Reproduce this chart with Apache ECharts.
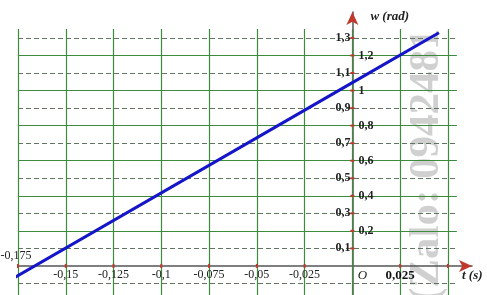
<!DOCTYPE html>
<html><head><meta charset="utf-8">
<script src="https://cdn.jsdelivr.net/npm/echarts@6/dist/echarts.min.js"></script>
<style>html,body{margin:0;padding:0;background:#fff}#c{width:487px;height:295px}</style>
</head><body><div id="c"></div>
<script>
// Data
const lineT = [-0.18, 0, 0.0453];
const lineW = [-0.086, 1.045, 1.33];
const xTicks = [-0.175, -0.15, -0.125, -0.1, -0.075, -0.05, -0.025, 0, 0.025, 0.05];
const xTickLabels = ['-0,175', '-0,15', '-0,125', '-0,1', '-0,075', '-0,05', '-0,025', 'O', '0,025', ''];
const yTicks = [0.1, 0.2, 0.3, 0.4, 0.5, 0.6, 0.7, 0.8, 0.9, 1.0, 1.1, 1.2, 1.3];
const yTickLabels = ['0,1', '0,2', '0,3', '0,4', '0,5', '0,6', '0,7', '0,8', '0,9', '1', '1,1', '1,2', '1,3'];
const solidW = [0.2, 0.4, 0.6, 0.8, 1.0, 1.2];
const dashedW = [-0.1, 0.1, 0.3, 0.5, 0.7, 0.9, 1.1, 1.3];
const xName = 't (s)';
const yName = 'w (rad)';
const watermark = '(Zalo: 0942481';

const serif = '"Liberation Serif","DejaVu Serif",serif';
const tLeft = -0.175, tRight = 0.0547, wTop = 1.351, wBottom = -0.2;
const xMax = 0.0626, yMax = 1.448;

const gridLines = [];
solidW.forEach(v => gridLines.push([{coord:[tLeft, v], lineStyle:{color:'#3d8b3d', width:1.2, type:'solid'}}, {coord:[tRight, v]}]));
dashedW.forEach(v => gridLines.push([{coord:[tLeft, v], lineStyle:{color:'#5f7560', width:1.1, type:[5,3]}}, {coord:[tRight, v]}]));
xTicks.forEach(v => gridLines.push([{coord:[v, wBottom], lineStyle:{color:'#3d8b3d', width:1.2, type:'solid'}}, {coord:[v, wTop]}]));

const labelBase = {fontFamily: serif, fontSize: 12, color: '#222'};
const tickLabels = [];
xTicks.forEach((t, i) => {
  const s = xTickLabels[i];
  if (!s) return;
  let lab;
  if (i === 0) lab = Object.assign({}, labelBase, {position: 'top', distance: 4, offset: [-2, 0]});
  else if (s === 'O') lab = Object.assign({}, labelBase, {position: 'bottom', distance: 3, offset: [10, 0], fontStyle: 'italic', fontSize: 13});
  else if (s === '0,025') lab = Object.assign({}, labelBase, {position: 'bottom', distance: 3, fontWeight: 'bold', fontSize: 13, color: '#111'});
  else lab = Object.assign({}, labelBase, {position: 'bottom', distance: 3});
  lab.show = true; lab.formatter = s;
  tickLabels.push({coord: [t, 0], label: lab});
});
yTicks.forEach((v, i) => {
  const odd = Math.round(v * 10) % 2 === 1;
  const lab = Object.assign({}, labelBase, {show: true, formatter: yTickLabels[i], fontWeight: 'bold',
    position: odd ? 'left' : 'right', distance: odd ? 2 : 6});
  tickLabels.push({coord: [0, v], label: lab});
});
const tickMarks = [];
xTicks.forEach(t => { if (t !== 0) tickMarks.push({coord: [t, 0], symbolSize: [2, 4]}); });
yTicks.forEach(v => tickMarks.push({coord: [0, v], symbolSize: [4, 2]}));

const chart = echarts.init(document.getElementById('c'));
chart.setOption({
  animation: false,
  backgroundColor: '#fff',
  grid: {left: 18, right: 15, top: 12, bottom: -6, containLabel: false, outerBoundsMode: 'none'},
  xAxis: {
    type: 'value', min: -0.175, max: xMax, interval: 0.025, z: 3,
    axisLine: {onZero: true, lineStyle: {color: '#555', width: 1.5}},
    axisTick: {show: false}, splitLine: {show: false}, axisLabel: {show: false},
    name: xName, nameLocation: 'end', nameGap: -10,
    nameTextStyle: {fontFamily: serif, fontStyle: 'italic', fontWeight: 'bold', fontSize: 13, color: '#222', align: 'left', verticalAlign: 'top', padding: [3,0,0,0]}
  },
  yAxis: {
    type: 'value', min: -0.2, max: yMax, interval: 0.1, z: 3,
    axisLine: {onZero: true, lineStyle: {color: '#555', width: 1.5}},
    axisTick: {show: false}, splitLine: {show: false}, axisLabel: {show: false},
    name: yName, nameLocation: 'end', nameGap: -5,
    nameTextStyle: {fontFamily: serif, fontStyle: 'italic', fontWeight: 'bold', fontSize: 13, color: '#222', align: 'left', verticalAlign: 'middle', padding: [0,0,0,18]}
  },
  graphic: [{
    type: 'text', x: 448, y: 302, rotation: Math.PI / 2, z: 1,
    style: {text: watermark, font: 'bold 43px "Liberation Serif"', fill: 'rgba(170,170,170,0.55)', textAlign: 'left', textVerticalAlign: 'bottom'}
  }],
  series: [
    {type: 'line', data: [], z: 1, silent: true,
     markLine: {silent: true, symbol: ['none','none'], label: {show: false}, data: gridLines, animation: false}},
    {type: 'line', z: 4, silent: true, lineStyle: {opacity: 0},
     data: [{value: [xMax, 0], symbolRotate: -90}, {value: [0, yMax], symbolRotate: 0}],
     symbol: 'arrow', symbolSize: [9, 13], itemStyle: {color: '#c0392b'},
     markPoint: {symbol: 'rect', itemStyle: {color: '#c0392b'}, label: {show: false}, data: tickMarks, animation: false}},
    {type: 'line', data: lineT.map((t, i) => [t, lineW[i]]), z: 5, clip: false,
     lineStyle: {color: '#1414c8', width: 3}, symbol: 'none',
     markPoint: {symbol: 'circle', symbolSize: 0, data: tickLabels, animation: false}}
  ]
});
</script></body></html>
